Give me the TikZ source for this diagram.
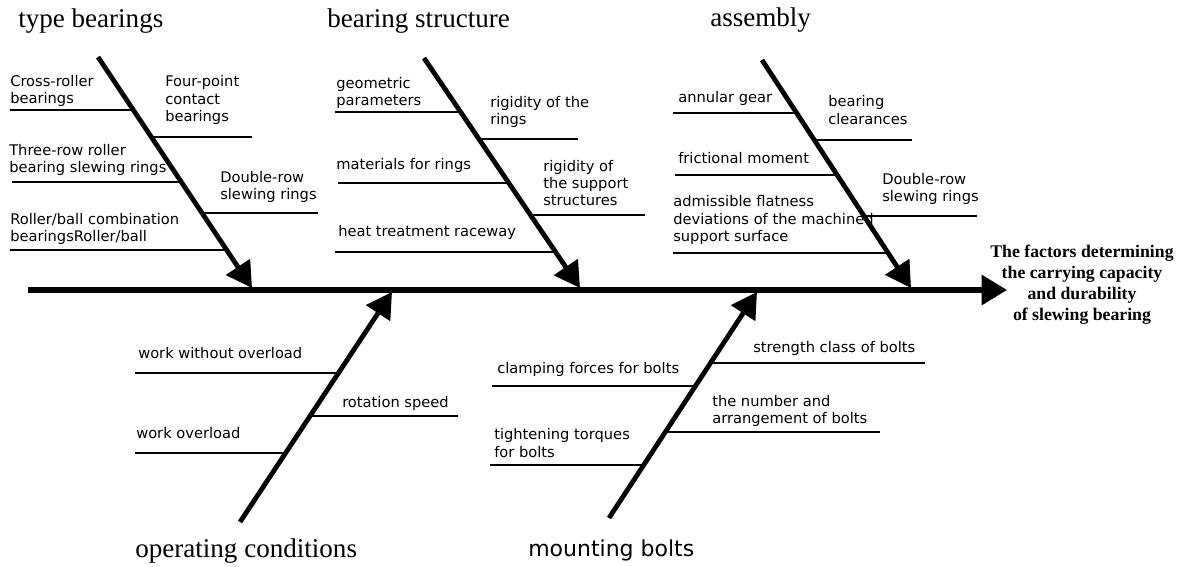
\documentclass[tikz,border=0pt]{standalone}
\usepackage{fontspec}
\setmainfont{Liberation Serif}
\newfontfamily\labfont{DejaVu Sans}
\usetikzlibrary{arrows.meta}
\tikzset{
  spine/.style={line width=3.8pt,-{Triangle[length=19pt,width=22pt]}},
  bone/.style={line width=3.6pt,-{Triangle[length=19pt,width=21pt]}},
  rib/.style={line width=1.4pt},
  lab/.style={anchor=west,inner sep=0pt,align=left,font=\labfont\fontsize{11}{12.9}\selectfont},
  cat/.style={anchor=base west,inner sep=0pt,font=\fontsize{20.3}{24}\selectfont},
  catsans/.style={anchor=base west,inner sep=0pt,font=\labfont\fontsize{16.5}{20}\selectfont},
  effect/.style={inner sep=0pt,align=center,font=\bfseries\fontsize{13.3}{15.75}\selectfont}
}
\begin{document}
\begin{tikzpicture}[x=0.75pt,y=-0.75pt]
\useasboundingbox (0,0) rectangle (1192,567);
% category titles
\node[cat] (t1) at (18,28) {type bearings};
\node[cat] (t2) at (327,28) {bearing structure};
\node[cat] (t3) at (710,27) {assembly};
\node[cat] (t4) at (135,557) {operating conditions};
\node[catsans] (t5) at (528,556) {mounting bolts};
\node[effect] (eff) at (1082,285) {The factors determining\\the carrying capacity\\and durability\\of slewing bearing};
% labels branch 1
\node[lab] (l11) at (10,91) {Cross-roller\\bearings};
\node[lab] (l12) at (165,100) {Four-point\\contact\\bearings};
\node[lab] (l13) at (9,160) {Three-row roller\\bearing slewing rings};
\node[lab] (l14) at (220,187) {Double-row\\slewing rings};
\node[lab] (l15) at (10,229) {Roller/ball combination\\bearingsRoller/ball};
% labels branch 2
\node[lab] (l21) at (336,93) {geometric\\parameters};
\node[lab] (l22) at (490,112) {rigidity of the\\rings};
\node[lab] (l23) at (336,165) {materials for rings};
\node[lab] (l24) at (543,183) {rigidity of\\the support\\structures};
\node[lab] (l25) at (338,232) {heat treatment raceway};
% labels branch 3
\node[lab] (l31) at (678,98) {annular gear};
\node[lab] (l32) at (828,110) {bearing\\clearances};
\node[lab] (l33) at (678,158) {frictional moment};
\node[lab] (l34) at (882,189) {Double-row\\slewing rings};
\node[lab] (l35) at (673,220) {admissible flatness\\deviations of the machined\\support surface};
% labels branch 4
\node[lab] (l41) at (138,353) {work without overload};
\node[lab] (l42) at (342,403) {rotation speed};
\node[lab] (l43) at (136,433) {work overload};
% labels branch 5
\node[lab] (l51) at (753,348) {strength class of bolts};
\node[lab] (l52) at (497,369) {clamping forces for bolts};
\node[lab] (l53) at (712,411) {the number and\\arrangement of bolts};
\node[lab] (l54) at (494,443) {tightening torques\\for bolts};
% ribs branch 1
\coordinate (r11a) at (10,110);  \coordinate (r11b) at (134,110);
\coordinate (r12a) at (151,137); \coordinate (r12b) at (252,137);
\coordinate (r13a) at (12,182);  \coordinate (r13b) at (182,182);
\coordinate (r14a) at (202,213); \coordinate (r14b) at (318,213);
\coordinate (r15a) at (10,250);  \coordinate (r15b) at (227,250);
% ribs branch 2
\coordinate (r21a) at (335,112); \coordinate (r21b) at (461,112);
\coordinate (r22a) at (479,139); \coordinate (r22b) at (578,139);
\coordinate (r23a) at (338,183); \coordinate (r23b) at (509,183);
\coordinate (r24a) at (530,215); \coordinate (r24b) at (645,215);
\coordinate (r25a) at (335,252); \coordinate (r25b) at (556,252);
% ribs branch 3
\coordinate (r31a) at (673,113); \coordinate (r31b) at (797,113);
\coordinate (r32a) at (814,140); \coordinate (r32b) at (912,140);
\coordinate (r33a) at (675,175); \coordinate (r33b) at (837,175);
\coordinate (r34a) at (864,216); \coordinate (r34b) at (977,216);
\coordinate (r35a) at (673,253); \coordinate (r35b) at (888,253);
% ribs branch 4
\coordinate (r41a) at (135,373); \coordinate (r41b) at (339,373);
\coordinate (r42a) at (310,416); \coordinate (r42b) at (458,416);
\coordinate (r43a) at (135,453); \coordinate (r43b) at (286,453);
% ribs branch 5
\coordinate (r51a) at (710,363); \coordinate (r51b) at (925,363);
\coordinate (r52a) at (492,386); \coordinate (r52b) at (695,386);
\coordinate (r53a) at (665,432); \coordinate (r53b) at (880,432);
\coordinate (r54a) at (490,465); \coordinate (r54b) at (644,465);
\foreach \r in {11,12,13,14,15,21,22,23,24,25,31,32,33,34,35,41,42,43,51,52,53,54}
  \draw[rib] (r\r a) -- (r\r b);
% bones
\coordinate (b1s) at (98,57);   \coordinate (b1e) at (252,288);
\coordinate (b2s) at (424,58);  \coordinate (b2e) at (580,288);
\coordinate (b3s) at (762,60);  \coordinate (b3e) at (911,288);
\coordinate (b4s) at (240,522); \coordinate (b4e) at (392,292);
\coordinate (b5s) at (609,518); \coordinate (b5e) at (757,292);
\foreach \b in {1,...,5}
  \draw[bone] (b\b s) -- (b\b e);
% spine
\coordinate (sp0) at (28,290);
\coordinate (sp1) at (1007,290);
\draw[spine] (sp0) -- (sp1);
\end{tikzpicture}
\end{document}
